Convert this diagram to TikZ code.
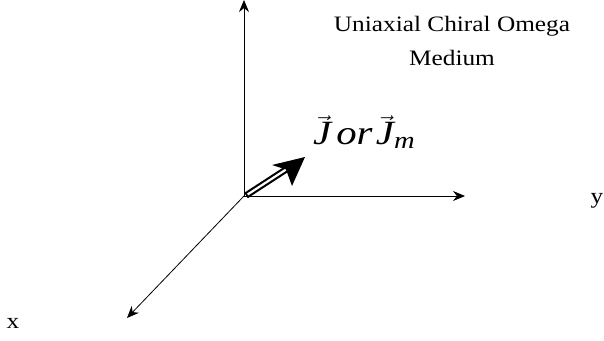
\documentclass[tikz,border=0pt]{standalone}
\usepackage{amsmath}
\usepackage{fontspec}
\setmainfont{Liberation Serif}
\usetikzlibrary{arrows.meta,calc}
\begin{document}
\begin{tikzpicture}[x=1pt,y=1pt,
  axis/.style={line width=0.8pt,-{Stealth[length=12pt,width=10pt]}},
  lbl/.style={font=\fontsize{22}{34}\selectfont,inner sep=0pt,xscale=1.15,transform shape}]
\useasboundingbox (0,0) rectangle (604,340);
\coordinate (O) at (244,144);
\coordinate (Zend) at (244,340);
\coordinate (Yend) at (465,144);
\coordinate (Xend) at (127,22);
\coordinate (Jbase) at (246,144.5);
\coordinate (Jneck) at (286,170.5);
\coordinate (Jtip) at (305,183);
\coordinate (Jc1) at (272,175);
\coordinate (Jc2) at (292,154);
\draw[axis] (O) -- (Zend);
\draw[axis] (O) -- (Yend);
\draw[axis] (O) -- (Xend);
\draw[line width=6.5pt,line cap=butt] (Jbase) -- (Jneck);
\draw[line width=2.2pt,white,line cap=butt] ($(Jbase)!2pt!(Jneck)$) -- (Jneck);
\fill (Jtip) -- (Jc1) -- (Jneck) -- (Jc2) -- cycle;
\node[lbl,anchor=north,align=center] (title) at (452,324) {Uniaxial Chiral Omega\\Medium};
\node[lbl,anchor=base] (xl) at (13,12) {x};
\node[lbl,anchor=base] (yl) at (597,136) {y};
\node[inner sep=0pt,anchor=base west,font=\fontsize{34}{38}\selectfont,xscale=1.2,transform shape] (jl) at (313,195) {$\vec{\textit{J}}\mkern3mu\textit{or}\mkern2mu\vec{\textit{J}}_{\textit{m}}$};
\end{tikzpicture}
\end{document}
